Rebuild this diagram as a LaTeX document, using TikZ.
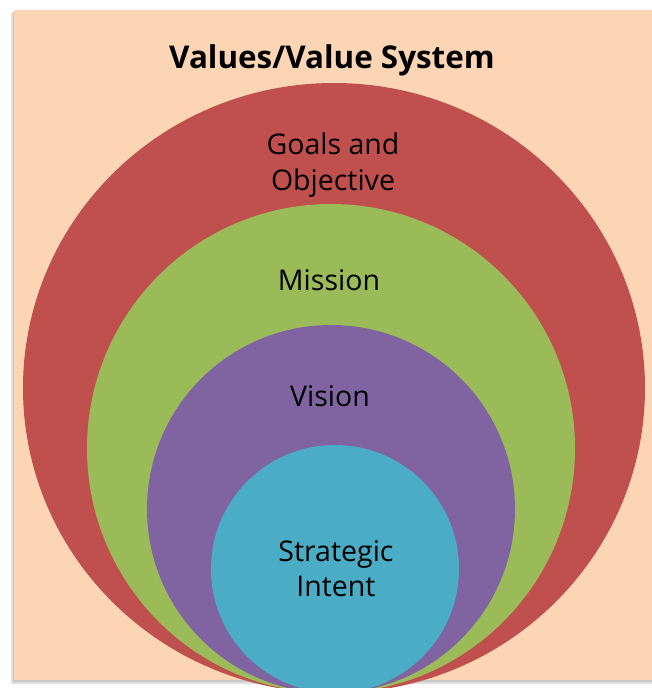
\documentclass[tikz,border=0pt]{standalone}
\usepackage{fontspec}
\setmainfont{Open Sans}
\definecolor{bgpeach}{HTML}{FCD5B5}
\definecolor{cred}{HTML}{C0504D}
\definecolor{cgreen}{HTML}{9BBB59}
\definecolor{cpurple}{HTML}{8064A2}
\definecolor{cblue}{HTML}{4BACC6}
\begin{document}
\begin{tikzpicture}[x=1pt,y=-1pt,
  lbl/.style={font=\fontsize{28.5}{34}\selectfont, text=black, anchor=base, inner sep=0pt},
  ttl/.style={font=\bfseries\fontsize{31.4}{38}\selectfont, text=black, anchor=base, inner sep=0pt}]
\useasboundingbox (0,0) rectangle (652,688);
\begin{scope}
\clip (0,0) rectangle (652,688);
% shadow
\fill[black!12] (11,13) rectangle (655,684);
\fill[black!22] (12.5,11.5) rectangle (655,682);
\fill[bgpeach] (14,10) rectangle (655,680);
% nested ellipses
\fill[cred] (334,388) ellipse [x radius=311, y radius=305];
\fill[cgreen] (331,448.5) ellipse [x radius=244, y radius=244.5];
\fill[cpurple] (331,509) ellipse [x radius=184, y radius=184];
\fill[cblue] (335,569) ellipse [x radius=124, y radius=124];
\end{scope}
\node[ttl] (title) at (332,68) {Values/Value System};
\node[lbl] (goals) at (333,154) {Goals and};
\node[lbl] (obj) at (333,190) {Objective};
\node[lbl] (mission) at (329,290) {Mission};
\node[lbl] (vision) at (330,406) {Vision};
\node[lbl] (strat) at (336,561) {Strategic};
\node[lbl] (intent) at (336,596) {Intent};
\end{tikzpicture}
\end{document}
